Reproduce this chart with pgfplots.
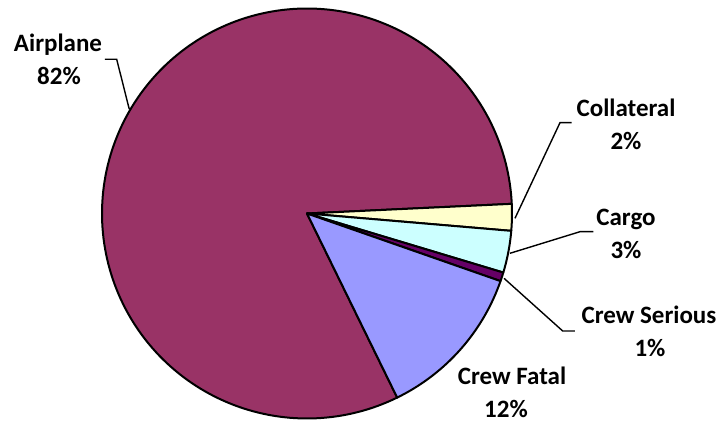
\documentclass[border=0pt]{standalone}
\usepackage{pgfplots}
\pgfplotsset{compat=1.18}
\usepackage{fontspec}
\setmainfont{Carlito}
\definecolor{cAir}{HTML}{993366}
\definecolor{cCol}{HTML}{FFFFCC}
\definecolor{cCar}{HTML}{CCFFFF}
\definecolor{cSer}{HTML}{660066}
\definecolor{cFat}{HTML}{9999FF}
\tikzset{lbl/.style={font=\fontsize{12.5}{14}\selectfont\bfseries, anchor=base, inner sep=0pt}}
\begin{document}
\begin{tikzpicture}
\pgfmathsetmacro\cx{307}
\pgfmathsetmacro\cy{208.5}
\pgfmathsetmacro\R{205}
% shares in percent
\def\vAir{81.5}\def\vCol{2.1}\def\vCar{3.3}\def\vSer{0.7}\def\vFat{12.4}
\pgfmathsetmacro\aColS{2.7}
\pgfmathsetmacro\aColE{\aColS-3.6*\vCol}
\pgfmathsetmacro\aCarE{\aColE-3.6*\vCar}
\pgfmathsetmacro\aSerE{\aCarE-3.6*\vSer}
\pgfmathsetmacro\aFatE{\aSerE-3.6*\vFat}
\pgfmathsetmacro\aAirE{\aFatE-3.6*\vAir}
\begin{axis}[scale only axis, width=360pt, height=211pt,
  xmin=0, xmax=720, ymin=0, ymax=422, hide axis, clip=false]
\path (axis cs:0,0) rectangle (axis cs:720,422);
\addplot[fill=cAir, draw=black, line width=1pt, line join=round, domain=\aAirE:\aFatE, samples=200, variable=\t]
  ({\cx+\R*cos(\t)},{\cy+\R*sin(\t)}) -- (axis cs:\cx,\cy) -- cycle;
\addplot[fill=cCol, draw=black, line width=1pt, line join=round, domain=\aColE:\aColS, samples=20, variable=\t]
  ({\cx+\R*cos(\t)},{\cy+\R*sin(\t)}) -- (axis cs:\cx,\cy) -- cycle;
\addplot[fill=cCar, draw=black, line width=1pt, line join=round, domain=\aCarE:\aColE, samples=20, variable=\t]
  ({\cx+\R*cos(\t)},{\cy+\R*sin(\t)}) -- (axis cs:\cx,\cy) -- cycle;
\addplot[fill=cSer, draw=black, line width=1pt, line join=round, domain=\aSerE:\aCarE, samples=10, variable=\t]
  ({\cx+\R*cos(\t)},{\cy+\R*sin(\t)}) -- (axis cs:\cx,\cy) -- cycle;
\addplot[fill=cFat, draw=black, line width=1pt, line join=round, domain=\aFatE:\aSerE, samples=60, variable=\t]
  ({\cx+\R*cos(\t)},{\cy+\R*sin(\t)}) -- (axis cs:\cx,\cy) -- cycle;
% leader lines
\addplot[black, line width=0.7pt] coordinates {(105,362.7) (116.7,362.7) (129.3,312.7)};
\addplot[black, line width=0.7pt] coordinates {(571.7,299.3) (560,299.3) (515,203.7)};
\addplot[black, line width=0.7pt] coordinates {(593.3,190.3) (580,190.3) (510,168.7)};
\addplot[black, line width=0.7pt] coordinates {(504,143.7) (562.7,91) (575,91)};
% labels
\node[lbl] at (axis cs:58,370) {Airplane};
\node[lbl] at (axis cs:59,337) {82\%};
\node[lbl] at (axis cs:626,305) {Collateral};
\node[lbl] at (axis cs:626,272) {2\%};
\node[lbl] at (axis cs:626,196) {Cargo};
\node[lbl] at (axis cs:626,163) {3\%};
\node[lbl] at (axis cs:649,98) {Crew Serious};
\node[lbl] at (axis cs:650,65) {1\%};
\node[lbl] at (axis cs:512,37) {Crew Fatal};
\node[lbl] at (axis cs:506,4) {12\%};
\end{axis}
\end{tikzpicture}
\end{document}
